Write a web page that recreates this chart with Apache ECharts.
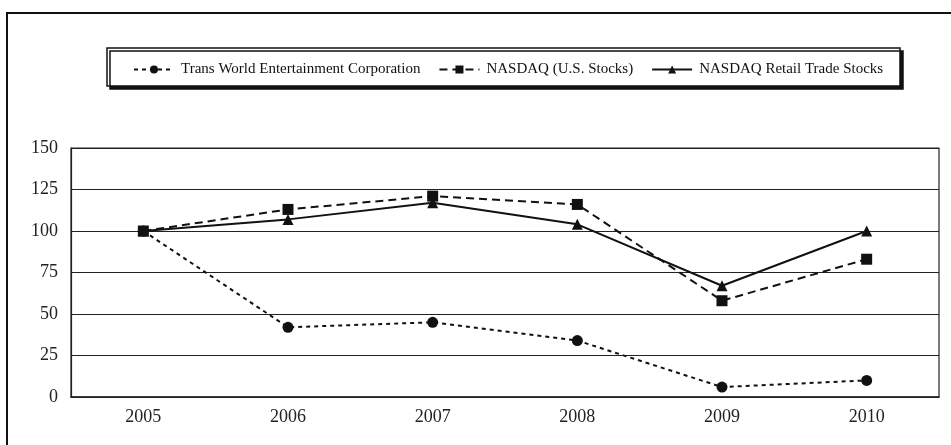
<!DOCTYPE html>
<html>
<head>
<meta charset="utf-8">
<script src="https://cdn.jsdelivr.net/npm/echarts@6/dist/echarts.min.js"></script>
<style>
  html, body { margin: 0; padding: 0; background: #fff; }
  #chart { width: 951px; height: 445px; }
</style>
</head>
<body>
<div id="chart"></div>
<script>
// data
var years = ['2005', '2006', '2007', '2008', '2009', '2010'];
var transWorld = [100, 42, 45, 34, 6, 10];
var nasdaqUS = [100, 113, 121, 116, 58, 83];
var nasdaqRetail = [100, 107, 117, 104, 67, 100];
var yTicks = { min: 0, max: 150, step: 25 };

var chart = echarts.init(document.getElementById('chart'));
var serif = '"Liberation Serif", "DejaVu Serif", serif';

var option = {
  animation: false,
  backgroundColor: '#fff',
  textStyle: { fontFamily: serif },
  graphic: [
    { // outer frame
      type: 'rect', shape: { x: 7, y: 13, width: 970, height: 460 },
      style: { fill: 'none', stroke: '#111', lineWidth: 2 }, z: -1
    },
    { // legend box with shadow
      type: 'rect', shape: { x: 107, y: 48, width: 793, height: 38 },
      style: { fill: '#fff', stroke: '#111', lineWidth: 1.5,
        shadowColor: '#111', shadowOffsetX: 3, shadowOffsetY: 3, shadowBlur: 0 },
      z: -1
    }
  ],
  legend: {
    top: 57,
    left: 128,
    itemGap: 18,
    itemWidth: 40,
    itemHeight: 10,
    textStyle: { fontFamily: serif, fontSize: 15, color: '#111', padding: [0, 0, 0, 2] },
    data: ['Trans World Entertainment Corporation', 'NASDAQ (U.S. Stocks)', 'NASDAQ Retail Trade Stocks']
  },
  grid: { left: 71, right: 12, top: 148, bottom: 48, show: true, borderColor: '#222', borderWidth: 1.2 },
  xAxis: {
    type: 'category',
    data: years,
    boundaryGap: true,
    axisLine: { lineStyle: { color: '#222', width: 1.5 } },
    axisTick: { alignWithLabel: true, inside: true, length: 3, lineStyle: { color: '#222' } },
    axisLabel: { color: '#222', fontSize: 18, fontFamily: serif, margin: 11 }
  },
  yAxis: {
    type: 'value',
    min: yTicks.min, max: yTicks.max, interval: yTicks.step,
    axisLine: { show: true, lineStyle: { color: '#222', width: 1.2 } },
    axisTick: { show: false },
    axisLabel: { color: '#222', fontSize: 18, fontFamily: serif, margin: 13 },
    splitLine: { lineStyle: { color: '#222', width: 1.2 } }
  },
  series: [
    {
      name: 'Trans World Entertainment Corporation',
      type: 'line',
      data: transWorld,
      symbol: 'circle', symbolSize: 11,
      lineStyle: { color: '#111', width: 2, type: [4, 4] },
      itemStyle: { color: '#111' }
    },
    {
      name: 'NASDAQ (U.S. Stocks)',
      type: 'line',
      data: nasdaqUS,
      symbol: 'rect', symbolSize: 11,
      lineStyle: { color: '#111', width: 2, type: [8, 5] },
      itemStyle: { color: '#111' }
    },
    {
      name: 'NASDAQ Retail Trade Stocks',
      type: 'line',
      data: nasdaqRetail,
      symbol: 'triangle', symbolSize: 11,
      lineStyle: { color: '#111', width: 2 },
      itemStyle: { color: '#111' }
    }
  ]
};
chart.setOption(option);
</script>
</body>
</html>
